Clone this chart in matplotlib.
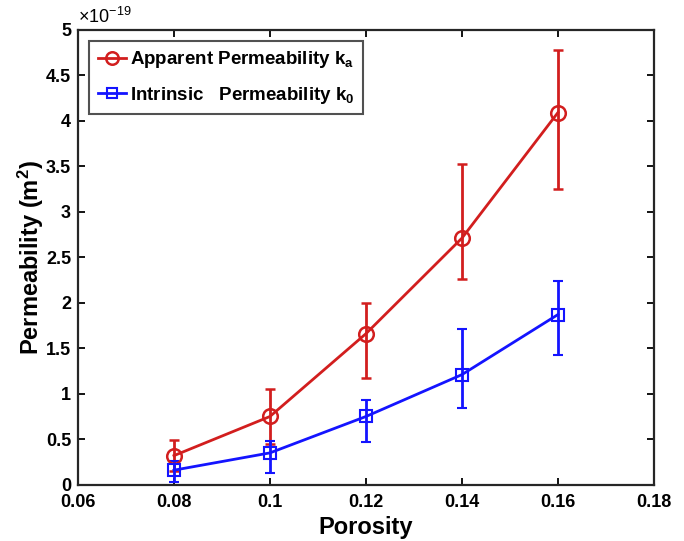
import matplotlib
matplotlib.use("Agg")
import matplotlib.pyplot as plt
from matplotlib.lines import Line2D
import numpy as np

plt.rcParams['font.family'] = ['Liberation Sans', 'DejaVu Sans']
plt.rcParams['font.weight'] = 'bold'
plt.rcParams['mathtext.default'] = 'regular'

porosity = [0.08, 0.10, 0.12, 0.14, 0.16]
apparent = [0.32, 0.75, 1.66, 2.71, 4.09]
apparent_hi = [0.49, 1.05, 2.00, 3.52, 4.78]
apparent_lo = [0.15, 0.45, 1.17, 2.26, 3.25]
intrinsic = [0.16, 0.35, 0.75, 1.21, 1.87]
intrinsic_hi = [0.26, 0.48, 0.93, 1.71, 2.24]
intrinsic_lo = [0.03, 0.13, 0.47, 0.84, 1.43]
xticks = [0.06, 0.08, 0.10, 0.12, 0.14, 0.16, 0.18]
xticklabels = ['0.06', '0.08', '0.1', '0.12', '0.14', '0.16', '0.18']
yticks = [0, 0.5, 1, 1.5, 2, 2.5, 3, 3.5, 4, 4.5, 5]
yticklabels = ['0', '0.5', '1', '1.5', '2', '2.5', '3', '3.5', '4', '4.5', '5']
labels = ['Apparent Permeability k$_a$', 'Intrinsic   Permeability k$_0$']

fig = plt.figure(figsize=(6.84, 5.41), dpi=100)
ax = fig.add_axes([0.114, 0.104, 0.842, 0.841])

red = '#d21e1e'
blue = '#1414ff'
a = np.array(apparent); i = np.array(intrinsic)
ax.errorbar(porosity, a, yerr=[a - np.array(apparent_lo), np.array(apparent_hi) - a],
            color=red, marker='o', markersize=10.5, markerfacecolor='none', markeredgewidth=1.8,
            linewidth=2, elinewidth=2, capsize=3.3, capthick=2)
ax.errorbar(porosity, i, yerr=[i - np.array(intrinsic_lo), np.array(intrinsic_hi) - i],
            color=blue, marker='s', markersize=8, markerfacecolor='none', markeredgewidth=1.5,
            linewidth=2, elinewidth=2, capsize=3.3, capthick=2)

ax.set_xlim(0.06, 0.18)
ax.set_ylim(0, 5)
ax.set_xticks(xticks)
ax.set_xticklabels(xticklabels)
ax.set_yticks(yticks)
ax.set_yticklabels(yticklabels)
ax.tick_params(direction='in', top=True, right=True, labelsize=13, width=1.3, length=5)
ax.tick_params(axis='x', pad=7)
ax.tick_params(axis='y', pad=5)
for s in ax.spines.values():
    s.set_linewidth(1.6)
    s.set_color('#262626')

ax.set_xlabel('Porosity', fontsize=17, fontweight='bold', labelpad=3)
ax.set_ylabel('Permeability (m$^2$)', fontsize=17, fontweight='bold', labelpad=0)
ax.text(0.0, 1.005, '×10$^{-19}$', transform=ax.transAxes, fontsize=13, ha='left', va='bottom', fontweight='normal')

handles = [Line2D([], [], color=red, marker='o', markersize=9, markerfacecolor='none', markeredgewidth=1.8, linewidth=2),
           Line2D([], [], color=blue, marker='s', markersize=7, markerfacecolor='none', markeredgewidth=1.5, linewidth=2)]
leg = ax.legend(handles, labels, loc='upper left', fontsize=13.5, frameon=True, fancybox=False, edgecolor='#262626',
                handlelength=1.5, borderaxespad=0.6, handletextpad=0.2, labelspacing=0.75, borderpad=0.45)
leg.get_frame().set_linewidth(1.5)
for t in leg.get_texts():
    t.set_fontweight('bold')

fig.savefig('out.png', dpi=100)
